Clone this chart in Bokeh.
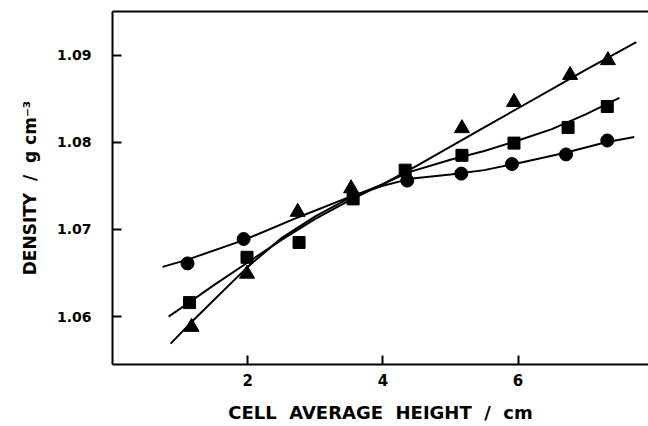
from bokeh.plotting import figure
from bokeh.models import FixedTicker, LinearAxis, Range1d
from bokeh.embed import file_html
from bokeh.resources import INLINE

# ---- data ----
x_ticks = [2, 4, 6]
y_ticks = [1.06, 1.07, 1.08, 1.09]

circ_x = [1.11, 1.94, 4.36, 5.16, 5.91, 6.71, 7.32]
circ_y = [1.0661, 1.0689, 1.0756, 1.0764, 1.0775, 1.0786, 1.0802]

sq_x = [1.14, 1.99, 2.76, 3.56, 4.33, 5.17, 5.94, 6.74, 7.32]
sq_y = [1.0616, 1.0668, 1.0685, 1.0735, 1.0768, 1.0785, 1.0799, 1.0817, 1.0841]

tri_x = [1.17, 1.99, 2.74, 3.53, 5.17, 5.94, 6.77, 7.33]
tri_y = [1.0588, 1.0649, 1.0720, 1.0747, 1.0816, 1.0846, 1.0877, 1.0894]

# fitted curves
circ_fit_x = [0.74, 1.1, 1.95, 2.75, 3.5, 4.0, 4.4, 5.0, 5.5, 6.0, 6.7, 7.3, 7.72]
circ_fit_y = [1.0657, 1.0665, 1.0688, 1.0714, 1.0737, 1.0750, 1.0758, 1.0763,
              1.0768, 1.0776, 1.0788, 1.0800, 1.0806]

sq_fit_x = [0.83, 1.15, 1.5, 2.0, 2.5, 3.0, 3.5, 4.0, 4.4, 5.0, 5.5, 6.0, 6.5, 7.0, 7.5]
sq_fit_y = [1.0600, 1.0617, 1.0636, 1.0662, 1.0688, 1.0712, 1.0733, 1.0752,
            1.0766, 1.0780, 1.0790, 1.0802, 1.0815, 1.0832, 1.0851]

tri_fit_x = [0.86, 1.2, 1.5, 2.0, 2.5, 3.0, 3.5, 4.0, 4.5, 5.0, 5.5, 6.0, 6.5, 7.0, 7.75]
tri_fit_y = [1.0569, 1.0596, 1.0619, 1.0657, 1.0690, 1.0715, 1.0736, 1.0752,
             1.0773, 1.0795, 1.0817, 1.0839, 1.0861, 1.0883, 1.0915]

NB = "\u00a0"
x_label = "CELL" + NB * 2 + "AVERAGE" + NB * 2 + "HEIGHT" + NB * 2 + "/" + NB * 2 + "cm"
y_label = "DENSITY" + NB * 2 + "/" + NB * 2 + "g" + NB + "cm\u207b\u00b3"

FONT = "DejaVu Sans"

p = figure(width=648, height=426, output_backend="svg", toolbar_location=None,
           x_range=Range1d(0, 7.93), y_range=Range1d(1.0545, 1.0950),
           min_border_left=112, min_border_right=0, min_border_top=11,
           min_border_bottom=62)
p.outline_line_color = None
p.xgrid.visible = False
p.ygrid.visible = False
p.background_fill_color = "white"
p.border_fill_color = "white"

for ax in (p.xaxis[0], p.yaxis[0]):
    ax.axis_line_width = 2
    ax.axis_line_color = "black"
    ax.major_tick_in = 9
    ax.major_tick_out = 0
    ax.major_tick_line_width = 2
    ax.minor_tick_line_color = None
    ax.major_label_text_font = FONT
    ax.major_label_text_font_style = "bold"
    ax.major_label_text_color = "black"
    ax.axis_label_text_font = FONT
    ax.axis_label_text_font_style = "bold"
    ax.axis_label_text_color = "black"

p.xaxis[0].ticker = FixedTicker(ticks=x_ticks)
p.yaxis[0].ticker = FixedTicker(ticks=y_ticks)
p.xaxis[0].major_label_text_font_size = "15px"
p.yaxis[0].major_label_text_font_size = "14px"
p.xaxis[0].major_label_standoff = 9
p.yaxis[0].major_label_standoff = 21
p.xaxis[0].axis_label = x_label
p.yaxis[0].axis_label = y_label
p.xaxis[0].axis_label_text_font_size = "18px"
p.yaxis[0].axis_label_text_font_size = "17px"
p.xaxis[0].axis_label_standoff = 13
p.yaxis[0].axis_label_standoff = 14

top = LinearAxis(ticker=FixedTicker(ticks=[]), axis_line_width=2,
                 major_tick_line_color=None, minor_tick_line_color=None,
                 major_label_text_font_size="0px", axis_line_color="black")
p.add_layout(top, "above")

lw = 2
p.line(circ_fit_x, circ_fit_y, line_color="black", line_width=lw)
p.line(sq_fit_x, sq_fit_y, line_color="black", line_width=lw)
p.line(tri_fit_x, tri_fit_y, line_color="black", line_width=lw)

p.scatter(circ_x, circ_y, marker="circle", size=13, fill_color="black", line_color="black")
p.scatter(sq_x, sq_y, marker="square", size=12, fill_color="black", line_color="black")
p.scatter(tri_x, tri_y, marker="triangle", size=15, fill_color="black", line_color="black")

open("out.html", "w").write(file_html(p, INLINE))
